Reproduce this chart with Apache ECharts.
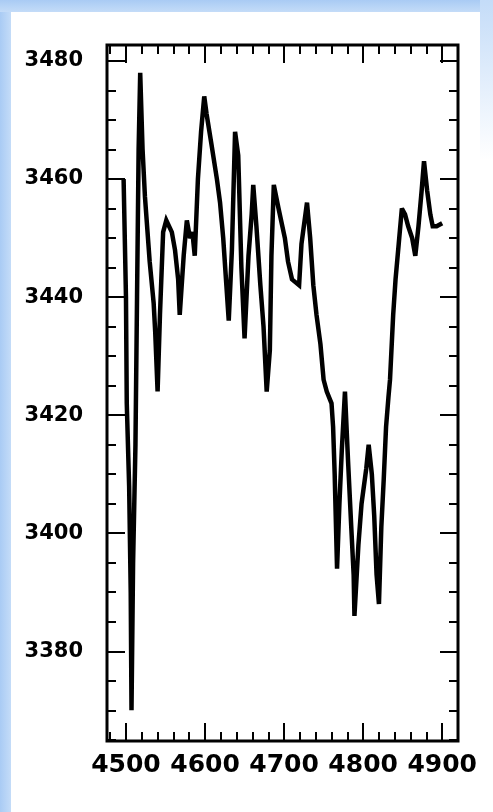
<!DOCTYPE html>
<html>
<head>
<meta charset="utf-8">
<script src="https://cdn.jsdelivr.net/npm/echarts@6/dist/echarts.min.js"></script>
<style>
  html, body { margin: 0; padding: 0; background: #fff; }
  #wrap { position: relative; width: 493px; height: 812px; overflow: hidden; background: #fff; }
  .strip { position: absolute; }
  #left { left: 0; top: 0; width: 11px; height: 812px; background: linear-gradient(to right, #a9cbf4, #c4dcf8); }
  #top { left: 0; top: 0; width: 493px; height: 12px; background: linear-gradient(to bottom, #a9cbf4, #c4dcf8); }
  #right { right: 0; top: 0; width: 13px; height: 160px; background: linear-gradient(to bottom, #c4dcf8, #ffffff); }
  #main { position: absolute; left: 0; top: 0; width: 493px; height: 812px; }
</style>
</head>
<body>
<div id="wrap">
  <div class="strip" id="left"></div>
  <div class="strip" id="top"></div>
  <div class="strip" id="right"></div>
  <div id="main"></div>
</div>
<script>
const wave = [4497, 4500, 4501, 4504, 4506, 4507, 4509, 4512, 4514, 4516, 4518, 4521, 4524, 4530, 4535,
  4537, 4540, 4543, 4547, 4551, 4558, 4562, 4566, 4568, 4573, 4577, 4581, 4584, 4587, 4591, 4595, 4599,
  4602, 4608, 4615, 4619, 4623, 4627, 4630, 4634, 4638, 4642, 4646, 4650, 4655, 4659, 4661, 4665, 4670,
  4674, 4678, 4682, 4684, 4687, 4693, 4701, 4705, 4710, 4719, 4722, 4729, 4733, 4737, 4741, 4746, 4750,
  4754, 4760, 4762, 4764, 4767, 4770, 4773, 4777, 4781, 4785, 4788, 4789, 4794, 4798, 4804, 4807, 4811,
  4814, 4817, 4820, 4823, 4826, 4829, 4832, 4834, 4838, 4841, 4845, 4849, 4853, 4857, 4862, 4866, 4870,
  4874, 4877, 4881, 4885, 4888, 4893, 4900];
const flux = [3460, 3440, 3422, 3408, 3390, 3370, 3395, 3415, 3440, 3465, 3478, 3465, 3457, 3446, 3439,
  3434, 3424, 3437, 3451, 3453, 3451, 3448, 3443, 3437, 3447, 3453, 3450, 3451, 3447, 3460, 3468, 3474,
  3471, 3466, 3460, 3456, 3450, 3442, 3436, 3448, 3468, 3464, 3445, 3433, 3447, 3454, 3459, 3452, 3442,
  3435, 3424, 3431, 3447, 3459, 3455, 3450, 3446, 3443, 3442, 3449, 3456, 3450, 3442, 3437, 3432, 3426,
  3424, 3422, 3418, 3410, 3394, 3405, 3414, 3424, 3412, 3401, 3393, 3386, 3398, 3405, 3411, 3415, 3410,
  3403, 3393, 3388, 3401, 3409, 3418, 3423, 3426, 3437, 3443, 3449, 3455, 3454, 3452, 3450, 3447, 3452,
  3458, 3463, 3458, 3454, 3452, 3452, 3452.5];

const xMajor = [4500, 4600, 4700, 4800, 4900];
const xMinor = [4480, 4520, 4540, 4560, 4580, 4620, 4640, 4660, 4680, 4720, 4740, 4760, 4780,
  4820, 4840, 4860, 4880];
const yMajor = [3380, 3400, 3420, 3440, 3460, 3480];
const yMinor = [3365, 3370, 3375, 3385, 3390, 3395, 3405, 3410, 3415, 3425, 3430, 3435,
  3445, 3450, 3455, 3465, 3470, 3475];

const X_MIN = 4476, X_MAX = 4920;
const Y_MIN = 3364.8, Y_MAX = 3482.7;

const chart = echarts.init(document.getElementById('main'), null, {renderer: 'canvas'});

function xAx(pos, ticks, len, labels) {
  return {
    type: 'value', position: pos, min: X_MIN, max: X_MAX,
    axisLine: {show: false},
    splitLine: {show: false},
    axisTick: {show: true, inside: true, length: len, customValues: ticks,
      lineStyle: {color: '#000', width: 2}},
    axisLabel: labels ? {show: true, customValues: ticks, margin: 12, color: '#000',
      fontFamily: 'DejaVu Sans', fontWeight: 'bold', fontSize: 25,
      formatter: v => String(v)} : {show: false}
  };
}
function yAx(pos, ticks, len, labels) {
  return {
    type: 'value', position: pos, min: Y_MIN, max: Y_MAX,
    axisLine: {show: false},
    splitLine: {show: false},
    axisTick: {show: true, inside: true, length: len, customValues: ticks,
      lineStyle: {color: '#000', width: 2}},
    axisLabel: labels ? {show: true, customValues: ticks, margin: 24, color: '#000',
      fontFamily: 'DejaVu Sans', fontWeight: 'bold', fontSize: 21,
      formatter: v => String(v)} : {show: false}
  };
}

chart.setOption({
  backgroundColor: 'transparent',
  animation: false,
  grid: {left: 107, top: 45, right: 35, bottom: 71, show: true,
    borderColor: '#000', borderWidth: 3, backgroundColor: '#fff'},
  xAxis: [
    xAx('bottom', xMajor, 18, true),
    xAx('bottom', xMinor, 9, false),
    xAx('top', xMajor, 18, false),
    xAx('top', xMinor, 9, false)
  ],
  yAxis: [
    yAx('left', yMajor, 18, true),
    yAx('left', yMinor, 9, false),
    yAx('right', yMajor, 18, false),
    yAx('right', yMinor, 9, false)
  ],
  series: [{
    type: 'line',
    xAxisIndex: 0, yAxisIndex: 0,
    data: wave.map((w, i) => [w, flux[i]]),
    showSymbol: false,
    lineStyle: {color: '#000', width: 4.5, join: 'miter', miterLimit: 3},
    clip: true
  }]
});
</script>
</body>
</html>
